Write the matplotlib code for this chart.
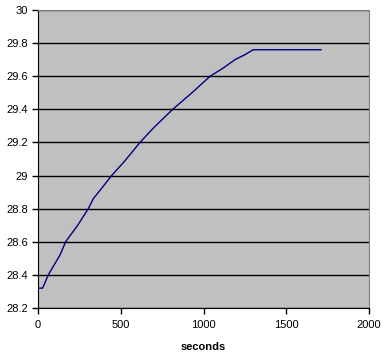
import matplotlib
matplotlib.use("Agg")
import matplotlib.pyplot as plt
import numpy as np

# readings taken off the curve
seconds = [0, 28, 62, 133, 167, 240, 304, 334, 390, 445, 526, 616, 700, 814, 930, 1040,
           1120, 1190, 1250, 1300, 1710]
temp = [28.32, 28.32, 28.40, 28.52, 28.60, 28.70, 28.80, 28.86, 28.93, 29.00, 29.09, 29.20,
        29.29, 29.40, 29.50, 29.60, 29.65, 29.70, 29.73, 29.76, 29.76]

x_ticks = [0, 500, 1000, 1500, 2000]
y_ticks = [28.2, 28.4, 28.6, 28.8, 29, 29.2, 29.4, 29.6, 29.8, 30]
y_labels = ["28.2", "28.4", "28.6", "28.8", "29", "29.2", "29.4", "29.6", "29.8", "30"]

plt.rcParams["font.family"] = ["Liberation Sans", "DejaVu Sans"]

fig = plt.figure(figsize=(3.86, 3.57), dpi=100)
ax = fig.add_axes([38 / 386, 1 - 308 / 357, 331 / 386, 298 / 357])
ax.set_facecolor("#c0c0c0")

ax.plot(seconds, temp, color="#000080", lw=1.0)

ax.set_xlim(0, 2000)
ax.set_ylim(28.2, 30)
ax.set_xticks(x_ticks)
ax.set_yticks(y_ticks)
ax.set_yticklabels(y_labels)
ax.yaxis.grid(True, color="black", lw=1.0)
ax.set_axisbelow(True)

ax.tick_params(direction="out", length=4, width=1, labelsize=8, colors="black", pad=3)
ax.tick_params(axis="x", pad=5)
for s in ["top", "right"]:
    ax.spines[s].set_color("#808080")
for s in ["left", "bottom"]:
    ax.spines[s].set_color("black")

ax.set_xlabel("seconds", fontsize=8, fontweight="bold", labelpad=8)

fig.savefig("out.png", dpi=100, facecolor="white")
